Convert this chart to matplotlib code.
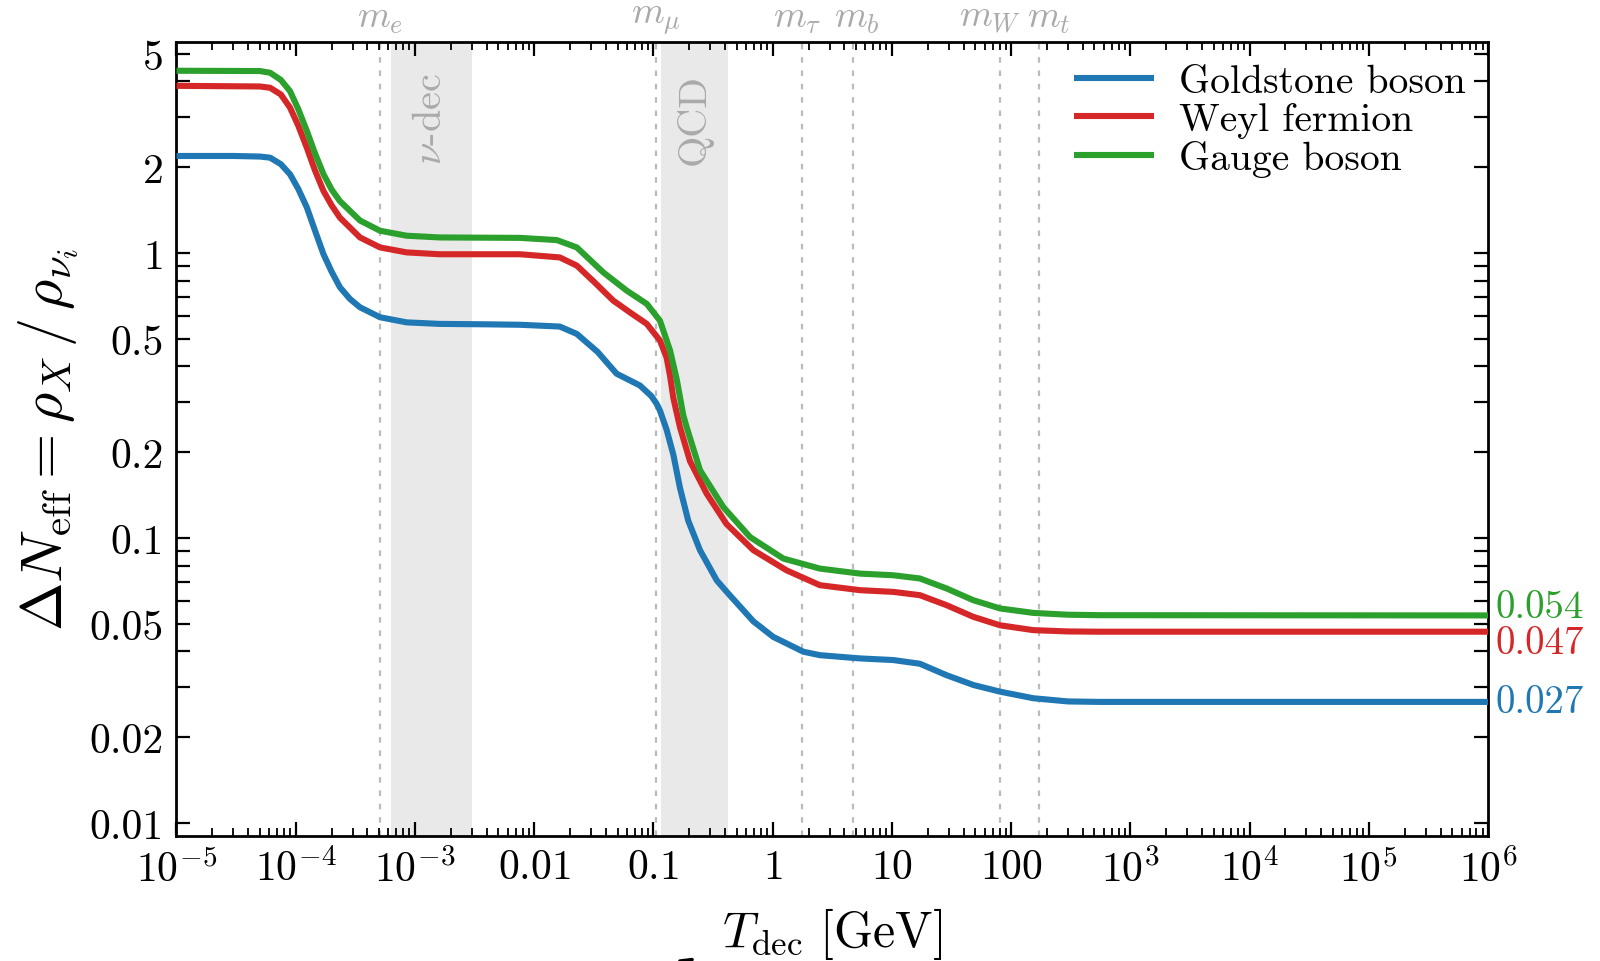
import numpy as np
import matplotlib
matplotlib.use('Agg')
from matplotlib import pyplot as plt
from matplotlib.ticker import FixedLocator, NullFormatter, LogLocator

plt.rcParams['mathtext.fontset'] = 'cm'
plt.rcParams['font.family'] = 'serif'
plt.rcParams['font.serif'] = ['cmr10']
plt.rcParams['axes.unicode_minus'] = False
plt.rcParams['axes.formatter.use_mathtext'] = True

# decoupling temperature [GeV] and Delta N_eff
T_goldstone = [1e-5, 3e-5, 5e-5, 6.1e-5, 7.5e-5, 8.95e-5, 1.05e-4, 1.24e-4, 1.45e-4,
               1.71e-4, 2.0e-4, 2.35e-4, 2.85e-4, 3.46e-4, 5.1e-4, 8.5e-4, 1.6e-3, 4e-3,
               7.6e-3, 1.64e-2, 2.28e-2, 3.4e-2, 4.92e-2, 7.7e-2, 9.6e-2, 0.1064, 0.1135,
               0.129, 0.147, 0.167, 0.196, 0.246, 0.34, 0.425, 0.532, 0.689, 1.01, 1.81,
               2.49, 5.41, 10.3, 17.2, 28.8, 48.2, 80.7, 153.5, 300, 557, 1e6]
dN_goldstone = [2.19, 2.19, 2.18, 2.16, 2.05, 1.89, 1.68, 1.445, 1.20,
                0.99, 0.86, 0.758, 0.69, 0.645, 0.595, 0.571, 0.564, 0.562,
                0.56, 0.552, 0.52, 0.45, 0.377, 0.343, 0.315, 0.296, 0.28,
                0.24, 0.196, 0.150, 0.115, 0.0906, 0.071, 0.0638, 0.0575, 0.051, 0.045, 0.0399,
                0.0388, 0.0378, 0.0373, 0.0362, 0.033, 0.0305, 0.0289, 0.0274, 0.0267, 0.0266, 0.0266]

T_weyl = [1e-5, 5e-5, 6.1e-5, 7.5e-5, 8.95e-5, 1.05e-4, 1.24e-4, 1.45e-4, 1.71e-4,
          2.0e-4, 2.35e-4, 3.46e-4, 5.1e-4, 8.5e-4, 1.6e-3, 7.6e-3, 1.64e-2, 2.28e-2,
          3.2e-2, 4.6e-2, 6.5e-2, 8.8e-2, 0.1135, 0.129, 0.138, 0.147, 0.167, 0.2028,
          0.28, 0.41, 0.69, 1.31, 2.49, 5.41, 10.3, 17.2, 28.8, 48.2, 80.7, 153.5,
          300, 557, 1e6]
dN_weyl = [3.86, 3.84, 3.80, 3.60, 3.24, 2.80, 2.34, 1.95, 1.65,
           1.47, 1.33, 1.134, 1.046, 1.005, 0.99, 0.99, 0.965, 0.903,
           0.79, 0.681, 0.615, 0.564, 0.493, 0.43, 0.37, 0.31, 0.245, 0.186,
           0.143, 0.112, 0.0906, 0.077, 0.0683, 0.0656, 0.0647, 0.063, 0.0581, 0.0529, 0.0494, 0.0475,
           0.047, 0.0469, 0.0469]

T_gauge = [1e-5, 5e-5, 6.1e-5, 7.5e-5, 8.95e-5, 1.05e-4, 1.24e-4, 1.45e-4, 1.71e-4,
           2.0e-4, 2.35e-4, 3.46e-4, 5.1e-4, 8.5e-4, 1.6e-3, 7.6e-3, 1.55e-2, 2.28e-2,
           3.8e-2, 5.97e-2, 8.8e-2, 0.1135, 0.138, 0.157, 0.178, 0.19, 0.246, 0.385,
           0.646, 1.23, 2.49, 5.41, 10.3, 17.2, 28.8, 48.2, 80.7, 153.5, 300, 557, 1e6]
dN_gauge = [4.36, 4.35, 4.29, 4.05, 3.7, 3.2, 2.68, 2.24, 1.89,
            1.67, 1.52, 1.30, 1.197, 1.15, 1.134, 1.13, 1.11, 1.046,
            0.855, 0.738, 0.663, 0.579, 0.455, 0.36, 0.27, 0.245, 0.173, 0.1285,
            0.1008, 0.0847, 0.0781, 0.075, 0.074, 0.0721, 0.0665, 0.0605, 0.0566, 0.0546, 0.0538, 0.0536, 0.0535]

labels = ['Goldstone boson', 'Weyl fermion', 'Gauge boson']
colors = ['#1f77b4', '#d62728', '#2ca02c']
end_labels = ['0.027', '0.047', '0.054']
end_label_y = [0.0266, 0.0428, 0.0570]

# particle masses [GeV] marked on top
mass_names = [r'$m_e$', r'$m_\mu$', r'$m_\tau$', r'$m_b$', r'$m_W$', r'$m_t$']
mass_values = [0.000511, 0.1057, 1.777, 4.7, 80.4, 173.0]
mass_label_shift = [0, 0, -4, 3, -7, 7]

# shaded epochs
bands = [(6.3e-4, 3.0e-3, r'$\nu$-dec'), (0.115, 0.425, 'QCD')]

y_major = [0.01, 0.02, 0.05, 0.1, 0.2, 0.5, 1, 2, 5]
y_major_labels = ['0.01', '0.02', '0.05', '0.1', '0.2', '0.5', '1', '2', '5']
y_minor = [0.03, 0.04, 0.06, 0.07, 0.08, 0.09, 0.3, 0.4, 0.6, 0.7, 0.8, 0.9, 3, 4]
x_major = [1e-5, 1e-4, 1e-3, 1e-2, 1e-1, 1, 10, 100, 1e3, 1e4, 1e5, 1e6]
x_major_labels = [r'$10^{-5}$', r'$10^{-4}$', r'$10^{-3}$', '$0.01$', '$0.1$', '$1$',
                  '$10$', '$100$', r'$10^{3}$', r'$10^{4}$', r'$10^{5}$', r'$10^{6}$']

fig = plt.figure(figsize=(16, 9.62), dpi=100)
ax = fig.add_subplot(111)
plt.subplots_adjust(left=0.1103, right=0.93, top=0.9553, bottom=0.1299)

for lo, hi, name in bands:
    ax.axvspan(lo, hi, color='#e9e9e9', lw=0, zorder=0)
    ax.text(np.sqrt(lo * hi), 2.05, name, rotation=90, ha='center', va='bottom',
            color='#aaaaaa', fontsize=29, zorder=1)

for name, m, dx in zip(mass_names, mass_values, mass_label_shift):
    ax.axvline(m, color='#bbbbbb', lw=1.6, ls=(0, (2.5, 3.5)), zorder=1)
    ax.annotate(name, xy=(m, 1.0), xycoords=ax.get_xaxis_transform(),
                xytext=(dx, 5), textcoords='offset points', ha='center', va='bottom',
                color='#aaaaaa', fontsize=27, annotation_clip=False)

series = [(T_goldstone, dN_goldstone), (T_weyl, dN_weyl), (T_gauge, dN_gauge)]
for (T, dN), lab, c in zip(series, labels, colors):
    ax.plot(T, dN, color=c, lw=4.4, label=lab, solid_capstyle='butt',
            solid_joinstyle='round', zorder=3)

for txt, yv, c in zip(end_labels, end_label_y, colors):
    ax.text(1.006, yv, txt, transform=ax.get_yaxis_transform(), color=c,
            fontsize=28, ha='left', va='center')

ax.set_xscale('log')
ax.set_yscale('log')
ax.set_xlim(1e-5, 1e6)
ax.set_ylim(0.009, 5.5)

ax.xaxis.set_major_locator(FixedLocator(x_major))
ax.set_xticklabels(x_major_labels)
ax.xaxis.set_minor_locator(LogLocator(base=10, subs=np.arange(2, 10), numticks=30))
ax.xaxis.set_minor_formatter(NullFormatter())
ax.yaxis.set_major_locator(FixedLocator(y_major))
ax.set_yticklabels(y_major_labels)
ax.yaxis.set_minor_locator(FixedLocator(y_minor))
ax.yaxis.set_minor_formatter(NullFormatter())

ax.tick_params(axis='both', which='both', direction='in', top=True, right=True)
ax.tick_params(axis='both', which='major', labelsize=30, width=1.6, length=10, pad=9)
ax.tick_params(axis='x', which='minor', width=1.3, length=6)
ax.tick_params(axis='y', which='minor', width=1.6, length=10)
for s in ax.spines.values():
    s.set_linewidth(2)

ax.set_xlabel(r'$T_{\rm dec}\ [{\rm GeV}]$', fontsize=36, labelpad=11)
ax.set_ylabel(r'$\Delta N_{\rm eff} = \rho_X\,/\,\rho_{\nu_i}$', fontsize=42, labelpad=6)

ax.legend(loc='upper right', fontsize=28.5, frameon=False, handlelength=2.0,
          handletextpad=0.65, labelspacing=0.05, borderaxespad=0.15)

# arrow head poking in from below the figure
ax.annotate('', xy=(698, 5), xycoords='figure pixels', xytext=(630, -35),
            textcoords='figure pixels', annotation_clip=False,
            arrowprops=dict(arrowstyle='-|>,head_length=0.8,head_width=0.35', color='k', lw=2.5))

fig.savefig('out.png', dpi=100)
